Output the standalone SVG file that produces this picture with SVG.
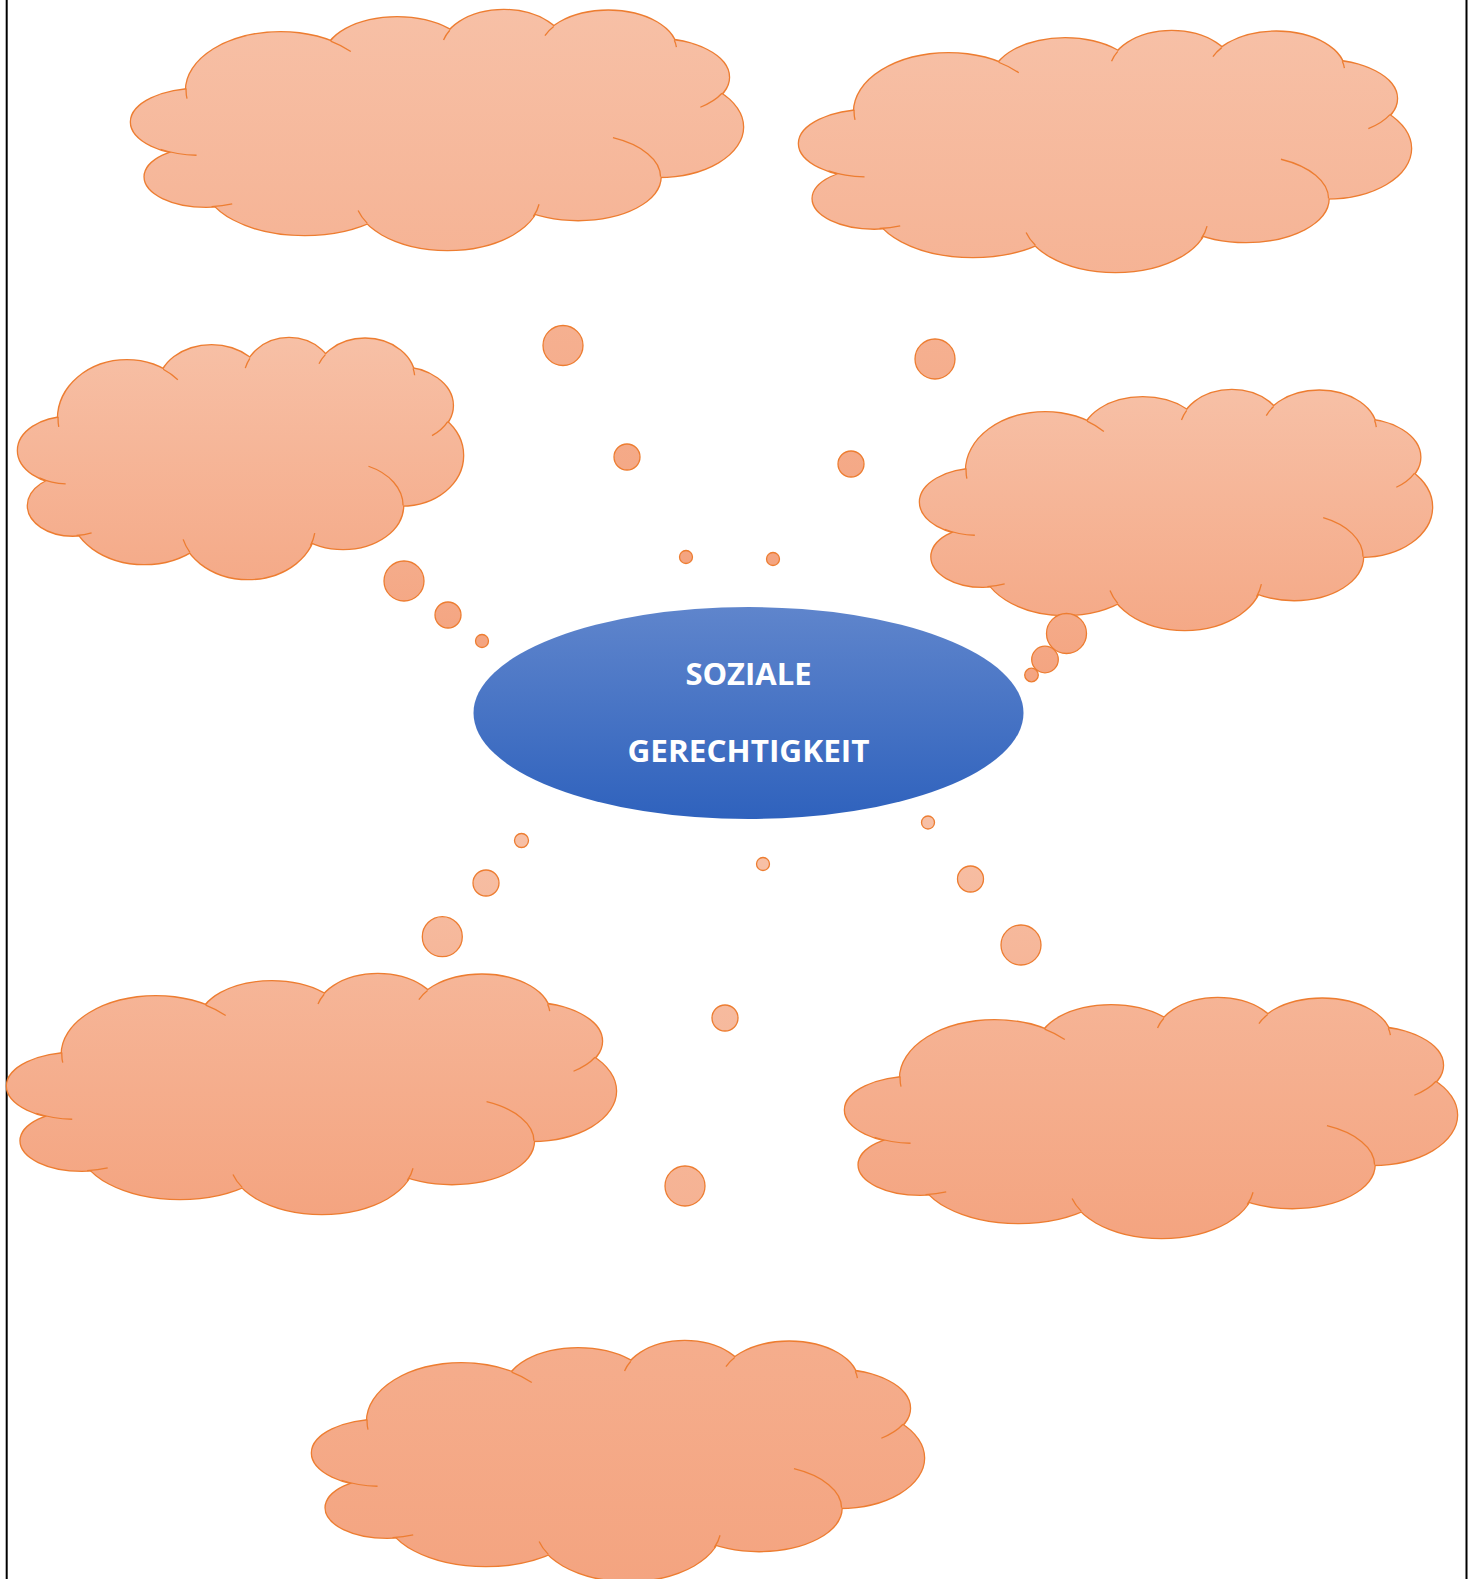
<svg xmlns="http://www.w3.org/2000/svg" xmlns:xlink="http://www.w3.org/1999/xlink" width="1470" height="1579" viewBox="0 0 1470 1579">
<defs>
<style>
.bub{stroke:#ED7D31;stroke-width:1.3}
.lbl{font-family:"Open Sans","Liberation Sans",sans-serif;font-weight:700;font-size:31px;fill:#FFFFFF;text-anchor:middle}
.border{stroke:#000;stroke-width:2}
</style>
<linearGradient id="base" x1="0" y1="0" x2="0" y2="1">
<stop offset="0" stop-color="#F7C0A6"/>
<stop offset="1" stop-color="#F4A480"/>
</linearGradient>
<linearGradient id="blue" x1="0" y1="0" x2="0" y2="1">
<stop offset="0" stop-color="#5F85CC"/>
<stop offset="1" stop-color="#2F62BD"/>
</linearGradient>
<linearGradient id="gc1" href="#base" xlink:href="#base" gradientUnits="userSpaceOnUse" x1="0" y1="28" x2="0" y2="1693"/>
<linearGradient id="gc2" href="#base" xlink:href="#base" gradientUnits="userSpaceOnUse" x1="0" y1="28" x2="0" y2="1629"/>
<linearGradient id="gc3" href="#base" xlink:href="#base" gradientUnits="userSpaceOnUse" x1="0" y1="28" x2="0" y2="955"/>
<linearGradient id="gc4" href="#base" xlink:href="#base" gradientUnits="userSpaceOnUse" x1="0" y1="28" x2="0" y2="905"/>
<linearGradient id="gc5" href="#base" xlink:href="#base" gradientUnits="userSpaceOnUse" x1="0" y1="-394" x2="0" y2="750"/>
<linearGradient id="gc6" href="#base" xlink:href="#base" gradientUnits="userSpaceOnUse" x1="0" y1="-519" x2="0" y2="750"/>
<linearGradient id="gc7" href="#base" xlink:href="#base" gradientUnits="userSpaceOnUse" x1="0" y1="-1426" x2="0" y2="750"/>
<linearGradient id="gb1" href="#base" xlink:href="#base" gradientUnits="userSpaceOnUse" x1="0" y1="10" x2="0" y2="564"/>
<linearGradient id="gb2" href="#base" xlink:href="#base" gradientUnits="userSpaceOnUse" x1="0" y1="31" x2="0" y2="566"/>
<linearGradient id="gb3" href="#base" xlink:href="#base" gradientUnits="userSpaceOnUse" x1="0" y1="338" x2="0" y2="648"/>
<linearGradient id="gb4" href="#base" xlink:href="#base" gradientUnits="userSpaceOnUse" x1="0" y1="390" x2="0" y2="682"/>
<linearGradient id="gb5" href="#base" xlink:href="#base" gradientUnits="userSpaceOnUse" x1="0" y1="834" x2="0" y2="1214"/>
<linearGradient id="gb6" href="#base" xlink:href="#base" gradientUnits="userSpaceOnUse" x1="0" y1="816" x2="0" y2="1238"/>
<linearGradient id="gb7" href="#base" xlink:href="#base" gradientUnits="userSpaceOnUse" x1="0" y1="857" x2="0" y2="1581"/>
<g id="lobes">
<ellipse cx="200" cy="365" rx="172" ry="100" vector-effect="non-scaling-stroke"/>
<ellipse cx="215" cy="530" rx="153" ry="90" vector-effect="non-scaling-stroke"/>
<ellipse cx="460" cy="545" rx="250" ry="160" vector-effect="non-scaling-stroke"/>
<ellipse cx="815" cy="590" rx="230" ry="160" vector-effect="non-scaling-stroke"/>
<ellipse cx="1140" cy="530" rx="205" ry="130" vector-effect="non-scaling-stroke"/>
<ellipse cx="1340" cy="380" rx="210" ry="150" vector-effect="non-scaling-stroke"/>
<ellipse cx="1330" cy="230" rx="185" ry="115" vector-effect="non-scaling-stroke"/>
<ellipse cx="1215" cy="150" rx="170" ry="120" vector-effect="non-scaling-stroke"/>
<ellipse cx="955" cy="150" rx="155" ry="122" vector-effect="non-scaling-stroke"/>
<ellipse cx="690" cy="170" rx="180" ry="120" vector-effect="non-scaling-stroke"/>
<ellipse cx="400" cy="270" rx="235" ry="175" vector-effect="non-scaling-stroke"/>
</g>
<path id="tails" vector-effect="non-scaling-stroke" d="M165.1,263.9 A235,175 0 0 0 167.3,294.4 M101.3,446.9 A172,100 0 0 0 191,464.9 M228.3,619.7 A153,90 0 0 0 279.7,611.6 M615.8,670 A230,160 0 0 1 592.8,631.4 M1028.3,649.9 A230,160 0 0 0 1042.8,612.3 M1226.6,412.2 A205,130 0 0 1 1345,530 M1497.7,278.6 A185,115 0 0 1 1443.9,320.6 M1379.2,118.9 A170,120 0 0 1 1384.4,139.5 M1079.2,77.8 A170,120 0 0 0 1057.4,105 M820.8,89 A155,122 0 0 0 805.3,118.4 M524.5,121.6 A235,175 0 0 1 574.6,152.9"/>
</defs>

<rect x="0" y="0" width="1470" height="1579" fill="#FFFFFF"/>
<line class="border" x1="6.7" y1="0" x2="6.7" y2="1579"/>
<line class="border" x1="1466.5" y1="0" x2="1466.5" y2="1579"/>

<g id="cloud1" transform="translate(131 10) scale(0.4021 0.3324) translate(-28 -28)">
<use href="#lobes" xlink:href="#lobes" fill="url(#gc1)" stroke="#ED7D31" stroke-width="2.6"/>
<use href="#lobes" xlink:href="#lobes" fill="url(#gc1)" stroke="none"/>
<ellipse cx="780" cy="400" rx="600" ry="250" fill="url(#gc1)"/>
<use href="#tails" xlink:href="#tails" fill="none" stroke="#ED7D31" stroke-width="1.3"/>
</g>
<g id="cloud2" transform="translate(799 31) scale(0.4021 0.3338) translate(-28 -28)">
<use href="#lobes" xlink:href="#lobes" fill="url(#gc2)" stroke="#ED7D31" stroke-width="2.6"/>
<use href="#lobes" xlink:href="#lobes" fill="url(#gc2)" stroke="none"/>
<ellipse cx="780" cy="400" rx="600" ry="250" fill="url(#gc2)"/>
<use href="#tails" xlink:href="#tails" fill="none" stroke="#ED7D31" stroke-width="1.3"/>
</g>
<g id="cloud3" transform="translate(18 338) scale(0.2924 0.3338) translate(-28 -28)">
<use href="#lobes" xlink:href="#lobes" fill="url(#gc3)" stroke="#ED7D31" stroke-width="2.6"/>
<use href="#lobes" xlink:href="#lobes" fill="url(#gc3)" stroke="none"/>
<ellipse cx="780" cy="400" rx="600" ry="250" fill="url(#gc3)"/>
<use href="#tails" xlink:href="#tails" fill="none" stroke="#ED7D31" stroke-width="1.3"/>
</g>
<g id="cloud4" transform="translate(920 390) scale(0.3364 0.3324) translate(-28 -28)">
<use href="#lobes" xlink:href="#lobes" fill="url(#gc4)" stroke="#ED7D31" stroke-width="2.6"/>
<use href="#lobes" xlink:href="#lobes" fill="url(#gc4)" stroke="none"/>
<ellipse cx="780" cy="400" rx="600" ry="250" fill="url(#gc4)"/>
<use href="#tails" xlink:href="#tails" fill="none" stroke="#ED7D31" stroke-width="1.3"/>
</g>
<g id="cloud5" transform="translate(7 974) scale(0.4001 0.3324) translate(-28 -28)">
<use href="#lobes" xlink:href="#lobes" fill="url(#gc5)" stroke="#ED7D31" stroke-width="2.6"/>
<use href="#lobes" xlink:href="#lobes" fill="url(#gc5)" stroke="none"/>
<ellipse cx="780" cy="400" rx="600" ry="250" fill="url(#gc5)"/>
<use href="#tails" xlink:href="#tails" fill="none" stroke="#ED7D31" stroke-width="1.3"/>
</g>
<g id="cloud6" transform="translate(845 998) scale(0.4021 0.3324) translate(-28 -28)">
<use href="#lobes" xlink:href="#lobes" fill="url(#gc6)" stroke="#ED7D31" stroke-width="2.6"/>
<use href="#lobes" xlink:href="#lobes" fill="url(#gc6)" stroke="none"/>
<ellipse cx="780" cy="400" rx="600" ry="250" fill="url(#gc6)"/>
<use href="#tails" xlink:href="#tails" fill="none" stroke="#ED7D31" stroke-width="1.3"/>
</g>
<g id="cloud7" transform="translate(312 1341) scale(0.4021 0.3324) translate(-28 -28)">
<use href="#lobes" xlink:href="#lobes" fill="url(#gc7)" stroke="#ED7D31" stroke-width="2.6"/>
<use href="#lobes" xlink:href="#lobes" fill="url(#gc7)" stroke="none"/>
<ellipse cx="780" cy="400" rx="600" ry="250" fill="url(#gc7)"/>
<use href="#tails" xlink:href="#tails" fill="none" stroke="#ED7D31" stroke-width="1.3"/>
</g>

<g id="connectors">
<circle class="bub" cx="563" cy="345.5" r="20" fill="url(#gb1)"/>
<circle class="bub" cx="627" cy="457" r="13" fill="url(#gb1)"/>
<circle class="bub" cx="686" cy="557" r="6.5" fill="url(#gb1)"/>
<circle class="bub" cx="935" cy="359" r="20" fill="url(#gb2)"/>
<circle class="bub" cx="851" cy="464" r="13" fill="url(#gb2)"/>
<circle class="bub" cx="773" cy="559" r="6.5" fill="url(#gb2)"/>
<circle class="bub" cx="404" cy="581" r="20" fill="url(#gb3)"/>
<circle class="bub" cx="448" cy="615" r="13" fill="url(#gb3)"/>
<circle class="bub" cx="482" cy="641" r="6.5" fill="url(#gb3)"/>
<circle class="bub" cx="1066.5" cy="633.5" r="20" fill="url(#gb4)"/>
<circle class="bub" cx="1045" cy="659.5" r="13.3" fill="url(#gb4)"/>
<circle class="bub" cx="1031.5" cy="675" r="6.8" fill="url(#gb4)"/>
<circle class="bub" cx="521.5" cy="840.5" r="7" fill="url(#gb5)"/>
<circle class="bub" cx="486" cy="883" r="13" fill="url(#gb5)"/>
<circle class="bub" cx="442.3" cy="936.7" r="20" fill="url(#gb5)"/>
<circle class="bub" cx="928" cy="822.5" r="6.5" fill="url(#gb6)"/>
<circle class="bub" cx="970.5" cy="879" r="13" fill="url(#gb6)"/>
<circle class="bub" cx="1021" cy="945" r="20" fill="url(#gb6)"/>
<circle class="bub" cx="763" cy="864" r="6.5" fill="url(#gb7)"/>
<circle class="bub" cx="725" cy="1018" r="13" fill="url(#gb7)"/>
<circle class="bub" cx="685" cy="1186" r="20" fill="url(#gb7)"/>
</g>

<g id="center">
<ellipse cx="748.5" cy="713" rx="275" ry="106" fill="url(#blue)"/>
<text class="lbl" x="748.5" y="684.5">SOZIALE</text>
<text class="lbl" x="748.5" y="761.5" textLength="242" lengthAdjust="spacingAndGlyphs">GERECHTIGKEIT</text>
</g>
</svg>
